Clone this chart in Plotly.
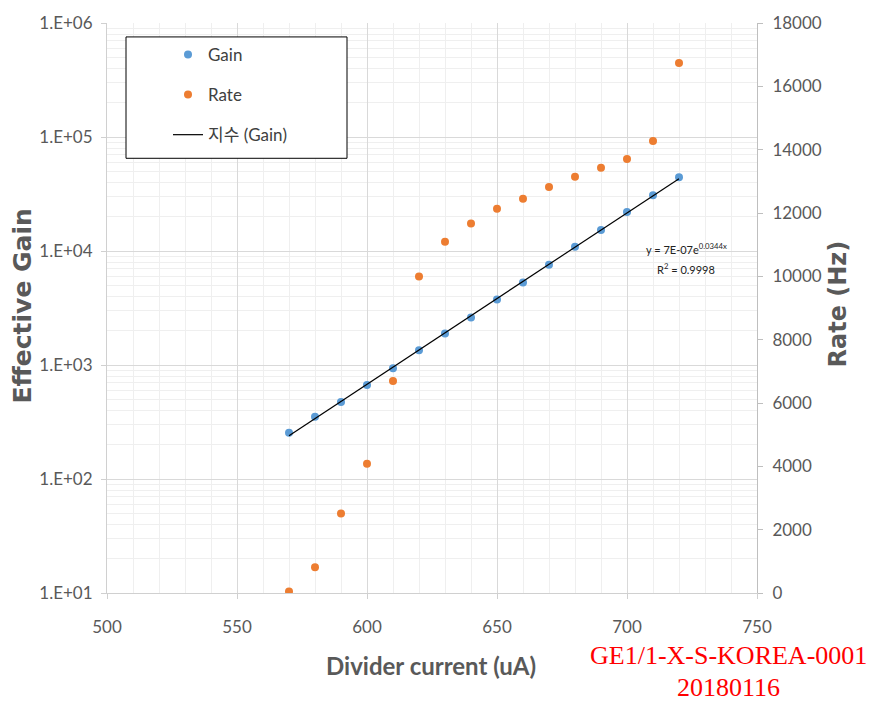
import numpy as np
import plotly.graph_objects as go

current = [570, 580, 590, 600, 610, 620, 630, 640, 650, 660, 670, 680, 690, 700, 710, 720]
gain = [254, 351, 473, 666, 937, 1345, 1893, 2612, 3750, 5280, 7580, 10880, 15300, 21970, 30900, 44370]
rate = [50, 817, 2513, 4084, 6692, 9991, 11090, 11665, 12137, 12451, 12818, 13143, 13426, 13709, 14274, 16735]

left_tickvals = [1e1, 1e2, 1e3, 1e4, 1e5, 1e6]
left_ticktext = ["1.E+01", "1.E+02", "1.E+03", "1.E+04", "1.E+05", "1.E+06"]

# exponential trendline fitted to the gain data
b, ln_a = np.polyfit(current, np.log(gain), 1)
fit_x = np.array([current[0], current[-1]])
fit_y = np.exp(ln_a) * np.exp(b * fit_x)

BLUE = "#5B9BD5"
ORANGE = "#ED7D31"
GRAY = "#595959"
FONT = "Lato, Noto Sans CJK KR, sans-serif"
WIDE = "DejaVu Sans, sans-serif"

L, R, T, B = 107, 757, 20, 593
W, H = R - L, B - T


def px(x):
    return (x - L) / W


def py(y):
    return (B - y) / H


fig = go.Figure()
fig.add_trace(go.Scatter(x=current, y=gain, mode="markers", name="Gain",
                         marker=dict(color=BLUE, size=8), legendgroup="a"))
fig.add_trace(go.Scatter(x=current, y=rate, mode="markers", name="Rate", yaxis="y2",
                         marker=dict(color=ORANGE, size=8), legendgroup="b"))
fig.add_trace(go.Scatter(x=fit_x, y=fit_y, mode="lines", name="지수 (Gain)",
                         line=dict(color="black", width=1.2), legendgroup="c"))

fig.update_layout(
    width=871, height=701,
    margin=dict(l=L, r=871 - R, t=T, b=701 - B),
    plot_bgcolor="white", paper_bgcolor="white",
    font=dict(family=FONT, color=GRAY),
    showlegend=True,
    legend=dict(x=px(168), y=py(34), xanchor="left", yanchor="top",
                bgcolor="rgba(0,0,0,0)", borderwidth=0, traceorder="grouped",
                tracegroupgap=15, font=dict(size=17, color="#404040", family=FONT)),
    xaxis=dict(range=[500, 750], dtick=50, showline=True, linecolor="#d0d0d0",
               ticks="outside", ticklen=5, tickcolor="#d0d0d0", ticklabelstandoff=14,
               showgrid=True, gridcolor="#d9d9d9", gridwidth=1,
               minor=dict(dtick=10, showgrid=True, gridcolor="#efefef"),
               tickfont=dict(size=17, color=GRAY), zeroline=False),
    yaxis=dict(type="log", range=[1, 6], tickvals=left_tickvals, ticktext=left_ticktext,
               showline=True, linecolor="#d0d0d0", ticks="outside", ticklen=5, tickcolor="#d0d0d0",
               ticklabelstandoff=5,
               showgrid=True, gridcolor="#d9d9d9",
               minor=dict(dtick="D1", showgrid=True, gridcolor="#efefef", ticks=""),
               tickfont=dict(size=17, color=GRAY)),
    yaxis2=dict(overlaying="y", side="right", range=[0, 18000], dtick=2000, tickformat="d",
                showline=True, linecolor="#bfbfbf", ticks="outside", ticklen=5, tickcolor="#bfbfbf",
                ticklabelstandoff=6,
                showgrid=False, zeroline=False, tickfont=dict(size=17, color=GRAY)),
)

# axis titles
fig.add_annotation(xref="paper", yref="paper", x=px(23), y=py(305), textangle=-90,
                   text="<b>Effective Gain</b>", showarrow=False, xanchor="center", yanchor="middle",
                   font=dict(size=25, color=GRAY, family=WIDE))
fig.add_annotation(xref="paper", yref="paper", x=px(838), y=py(303), textangle=-90,
                   text="<b>Rate (Hz)</b>", showarrow=False, xanchor="center", yanchor="middle",
                   font=dict(size=24, color=GRAY, family=WIDE))
fig.add_annotation(xref="paper", yref="paper", x=px(431), y=py(666),
                   text="<b>Divider current (uA)</b>", showarrow=False, xanchor="center", yanchor="middle",
                   font=dict(size=24, color=GRAY, family=FONT))

# legend box
fig.add_shape(type="rect", xref="paper", yref="paper",
              x0=px(126), x1=px(347), y0=py(156), y1=py(34),
              line=dict(color="black", width=1), fillcolor="white", layer="above")

# trendline equation
fig.add_annotation(xref="paper", yref="paper", x=px(686), y=py(247), xanchor="center", yanchor="middle",
                   text="y = 7E-07e<sup>0.0344x</sup>", showarrow=False,
                   font=dict(size=11, color="#222", family=FONT))
fig.add_annotation(xref="paper", yref="paper", x=px(686), y=py(267), xanchor="center", yanchor="middle",
                   text="R<sup>2</sup> = 0.9998", showarrow=False,
                   font=dict(size=11, color="#222", family=FONT))

# red label
fig.add_annotation(xref="paper", yref="paper", x=px(728), y=py(656),
                   text="GE1/1-X-S-KOREA-0001", showarrow=False, xanchor="center", yanchor="middle",
                   font=dict(size=26, color="red", family="Liberation Serif, serif"))
fig.add_annotation(xref="paper", yref="paper", x=px(728), y=py(688),
                   text="20180116", showarrow=False, xanchor="center", yanchor="middle",
                   font=dict(size=26, color="red", family="Liberation Serif, serif"))

fig.write_html("out.html")
